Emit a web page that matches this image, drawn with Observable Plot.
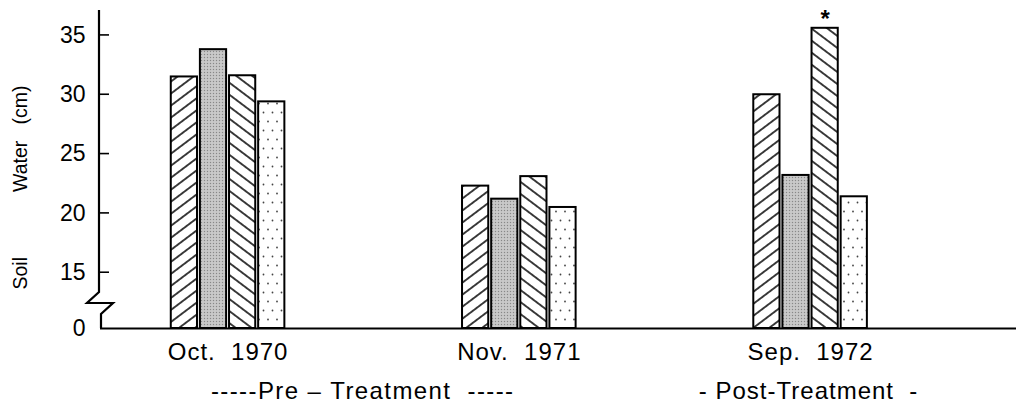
<!DOCTYPE html>
<html><head><meta charset="utf-8">
<script src="https://cdn.jsdelivr.net/npm/d3@7"></script>
<script src="https://cdn.jsdelivr.net/npm/@observablehq/plot@0.6"></script>
<style>
html,body{margin:0;padding:0;background:#fff;}
g[aria-label="x-axis tick label"] text { letter-spacing: 1px; }
</style>
</head><body><div id="chart"></div>
<script>
// ---- data ----
const groups = ["Oct. 1970", "Nov. 1971", "Sep. 1972"];
const series = ["T1", "T2", "T3", "T4"];           // four treatments (patterns)
const values = [
  [31.5, 33.8, 31.6, 29.4],   // Oct. 1970
  [22.3, 21.2, 23.1, 20.5],   // Nov. 1971
  [30.0, 23.2, 35.6, 21.4]    // Sep. 1972
];
const yTicks = [15, 20, 25, 30, 35];
const yBreak = 10.3;           // axis is broken: this level is labelled 0
const yLabel = "Soil" + "\u00a0".repeat(12) + "Water" + "\u00a0".repeat(3) + "(cm)";
const phasePre = "-----Pre\u00a0\u2013\u00a0Treatment\u00a0\u00a0-----";
const phasePost = "-\u00a0Post-Treatment\u00a0\u00a0-";
const notes = [{gi: 2, si: 2, text: "*"}];

// ---- layout helpers ----
const GROUP_STEP = 10;   // bar slots per group
const pos = (gi, si) => gi * GROUP_STEP + si - (series.length - 1) / 2;
const table = groups.flatMap((g, gi) => series.map((s, si) => ({group: g, gi, s, si, v: values[gi][si]})));
const FONT = "'Liberation Sans', Arial, sans-serif";
const NARROW = "'Liberation Sans Narrow', 'Liberation Sans', sans-serif";

function brokenAxis(index, scales, vals, dims) {
  const y = scales.y;
  const x0 = dims.marginLeft;
  const yb = y(yBreak);
  const g = d3.create("svg:g").attr("fill", "none").attr("stroke", "#000").attr("stroke-width", 2.2)
    .attr("stroke-linejoin", "miter");
  const p = d3.path();
  p.moveTo(x0 - 1, dims.marginTop);
  p.lineTo(x0 - 1, yb - 36);
  p.lineTo(x0 - 13, yb - 25);
  p.lineTo(x0 + 13, yb - 25);
  p.lineTo(x0 + 1, yb - 14);
  p.lineTo(x0 + 1, yb);
  g.append("path").attr("d", p.toString());
  for (const t of yTicks) {
    g.append("line").attr("x1", x0 - 1).attr("x2", x0 + 9).attr("y1", y(t)).attr("y2", y(t)).attr("stroke-width", 1.6);
  }
  return g.node();
}

const plot = Plot.plot({
  width: 1016, height: 410,
  marginLeft: 100, marginRight: 0, marginTop: 10, marginBottom: 82,
  x: {domain: [-4.38, 27.07], axis: null},
  y: {domain: [yBreak, 37.1], axis: null},
  style: {fontFamily: FONT, background: "#fff", color: "#000"},
  marks: [
    ...series.map((s, si) => Plot.rectY(table.filter(d => d.si === si), {
      x1: d => pos(d.gi, d.si) - 0.45,
      x2: d => pos(d.gi, d.si) + 0.45,
      y1: yBreak, y2: "v",
      fill: `url(#pat${si})`, stroke: "#000", strokeWidth: 2
    })),
    Plot.ruleY([yBreak], {stroke: "#000", strokeWidth: 2.2}),
    brokenAxis,
    Plot.axisY([yBreak, ...yTicks], {
      anchor: "left", label: null, tickSize: 0, tickPadding: 15, fontSize: 23,
      tickFormat: d => d === yBreak ? "0" : String(d)
    }),
    Plot.axisX(groups.map((g, gi) => pos(gi, 1.5)), {
      anchor: "bottom", label: null, tickSize: 0, tickPadding: 14, fontSize: 24, fontFamily: NARROW,
      tickFormat: (d, i) => groups[i].replace(" ", "\u00a0\u00a0")
    }),
    Plot.text([yLabel], {text: d => d, frameAnchor: "left", textAnchor: "middle", rotate: -90, dx: -80, dy: 18, fontSize: 19.5}),
    Plot.text([phasePre], {text: d => d, x: () => (pos(0, 1.5) + pos(1, 1.5)) / 2, frameAnchor: "bottom", dy: 70, dx: -11, fontSize: 24, fontFamily: NARROW}),
    Plot.text([phasePost], {text: d => d, x: () => pos(2, 1.5), frameAnchor: "bottom", dy: 70, dx: -2, fontSize: 24, fontFamily: NARROW}),
    Plot.text(notes, {x: d => pos(d.gi, d.si), y: d => values[d.gi][d.si], text: "text", dy: -9, fontSize: 24, fontWeight: "bold"})
  ]
});

const defs = `
<pattern id="pat0" patternUnits="userSpaceOnUse" width="10" height="9.6" patternTransform="rotate(-37)">
  <rect width="10" height="9.6" fill="#fff"/>
  <line x1="-1" y1="4.8" x2="11" y2="4.8" stroke="#000" stroke-width="1.5"/>
</pattern>
<pattern id="pat1" patternUnits="userSpaceOnUse" width="3" height="3">
  <rect width="3" height="3" fill="#c2c2c2"/>
  <rect width="1" height="1" fill="#888"/>
  <rect x="1.5" y="1.5" width="1" height="1" fill="#e0e0e0"/>
</pattern>
<pattern id="pat2" patternUnits="userSpaceOnUse" width="10" height="9.6" patternTransform="rotate(37)">
  <rect width="10" height="9.6" fill="#fff"/>
  <line x1="-1" y1="4.8" x2="11" y2="4.8" stroke="#000" stroke-width="1.5"/>
</pattern>
<pattern id="pat3" patternUnits="userSpaceOnUse" width="9" height="18">
  <rect width="9" height="18" fill="#fff"/>
  <circle cx="2.5" cy="4.5" r="0.9" fill="#444"/>
  <circle cx="7" cy="13.5" r="0.9" fill="#444"/>
</pattern>`;
d3.select(plot).insert("defs", ":first-child").html(defs);
d3.select(plot).selectAll("text").filter(function () {
  return this.textContent === phasePre;
}).attr("letter-spacing", 1.4);
d3.select(plot).selectAll("text").filter(function () {
  return this.textContent === phasePost;
}).attr("letter-spacing", 1);
document.getElementById("chart").appendChild(plot);
</script>
</body></html>
